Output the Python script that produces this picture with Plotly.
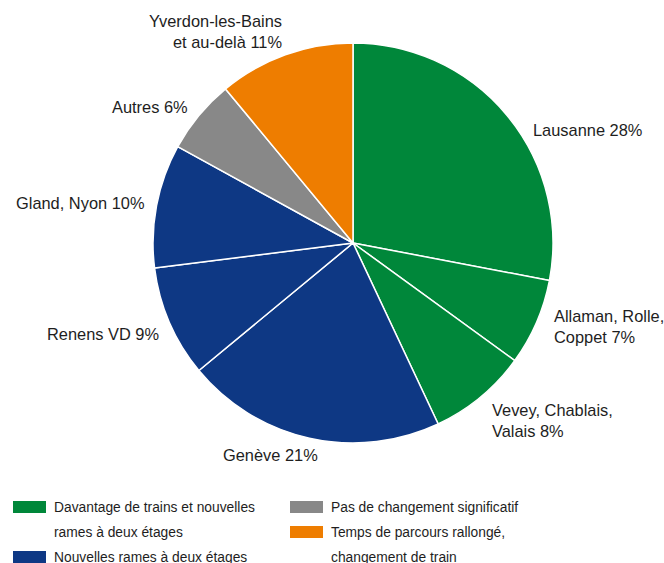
import plotly.graph_objects as go

# ---- data ----
regions = ["Lausanne", "Allaman, Rolle,<br>Coppet", "Vevey, Chablais,<br>Valais", "Genève",
           "Renens VD", "Gland, Nyon", "Autres", "Yverdon-les-Bains<br>et au-delà"]
shares = [28, 7, 8, 21, 9, 10, 6, 11]
region_category = [0, 0, 0, 1, 1, 1, 2, 3]
categories = [
    ["Davantage de trains et nouvelles", "rames à deux étages"],
    ["Nouvelles rames à deux étages"],
    ["Pas de changement significatif"],
    ["Temps de parcours rallongé,", "changement de train"],
]
category_colors = ["#00873A", "#0E3884", "#888888", "#EE7D00"]

W, H = 664, 563
FONT = "Liberation Sans, Arial, Helvetica, sans-serif"
TXT = "#1e1e1e"

def px(x):
    return x / W

def py(y):
    return 1 - y / H

cx, cy, r = 353, 243, 200

fig = go.Figure(go.Pie(
    labels=[f"{g}" for g in regions],
    values=shares,
    sort=False,
    direction="clockwise",
    rotation=0,
    marker=dict(colors=[category_colors[c] for c in region_category],
                line=dict(color="white", width=1.5)),
    textinfo="none",
    hoverinfo="label+percent",
    showlegend=False,
    domain=dict(x=[px(cx - r), px(cx + r)], y=[py(cy + r), py(cy - r)]),
))

# label placement (pixel anchor, xanchor)
label_pos = [
    (531, 130, "left"),
    (552, 326, "left"),
    (490, 420, "left"),
    (270, 455, "center"),
    (161, 334, "right"),
    (146, 203, "right"),
    (190, 107, "right"),
    (284, 31, "right"),
]
for name, val, (x, y, xa) in zip(regions, shares, label_pos):
    fig.add_annotation(
        x=px(x), y=py(y), xref="paper", yref="paper",
        text=f"{name} {val}%", showarrow=False,
        xanchor=xa, yanchor="middle", align=xa if xa != "center" else "center",
        font=dict(family=FONT, size=16.4, color=TXT),
    )

# legend (two columns)
legend_slots = [(13, 507), (13, 557), (290, 507), (290, 532)]
for lines, col, (x, y) in zip(categories, category_colors, legend_slots):
    fig.add_shape(type="rect", xref="paper", yref="paper",
                  x0=px(x), x1=px(x + 33), y0=py(y + 6), y1=py(y - 6),
                  fillcolor=col, line=dict(width=0))
    for i, line in enumerate(lines):
        fig.add_annotation(
            x=px(x + 39), y=py(y + 25 * i), xref="paper", yref="paper",
            text=line, showarrow=False, xanchor="left", yanchor="middle",
            font=dict(family=FONT, size=13.8, color=TXT),
        )

fig.update_layout(
    width=W, height=H,
    margin=dict(l=0, r=0, t=0, b=0),
    paper_bgcolor="white", plot_bgcolor="white",
    font=dict(family=FONT),
)

fig.write_html("out.html", config={"displayModeBar": False},
               post_script="document.body.style.margin='0';document.body.style.padding='0';")
